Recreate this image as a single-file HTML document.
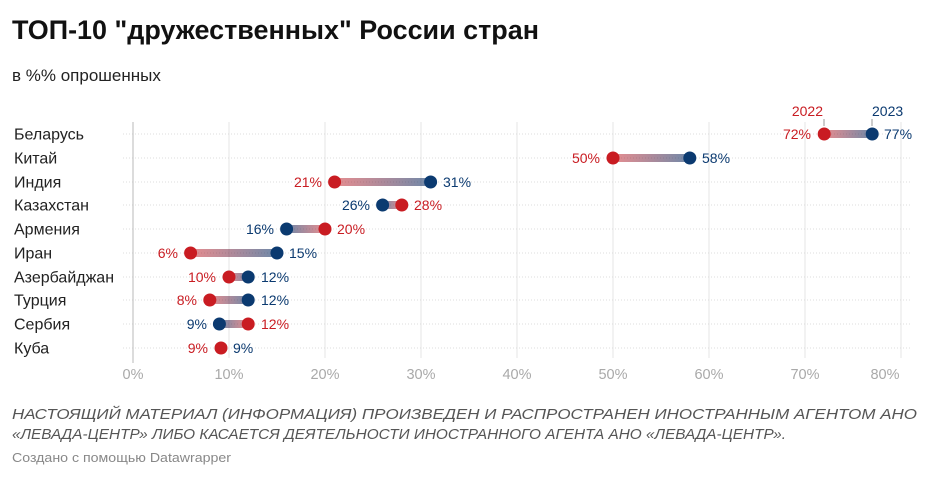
<!DOCTYPE html>
<html><head><meta charset="utf-8"><style>
html,body{margin:0;padding:0;background:#fff;}
svg{display:block;font-family:"Liberation Sans","Noto Sans CJK SC",sans-serif;}
</style></head><body>
<svg width="940" height="479" viewBox="0 0 940 479" xmlns="http://www.w3.org/2000/svg">
<defs>
<linearGradient id="g0" gradientUnits="userSpaceOnUse" x1="824.2" y1="0" x2="872.2" y2="0"><stop offset="0" stop-color="#c91c22" stop-opacity="0.5"/><stop offset="1" stop-color="#0b3a70" stop-opacity="0.6"/></linearGradient>
<linearGradient id="g1" gradientUnits="userSpaceOnUse" x1="613" y1="0" x2="689.8" y2="0"><stop offset="0" stop-color="#c91c22" stop-opacity="0.5"/><stop offset="1" stop-color="#0b3a70" stop-opacity="0.6"/></linearGradient>
<linearGradient id="g2" gradientUnits="userSpaceOnUse" x1="334.6" y1="0" x2="430.6" y2="0"><stop offset="0" stop-color="#c91c22" stop-opacity="0.5"/><stop offset="1" stop-color="#0b3a70" stop-opacity="0.6"/></linearGradient>
<linearGradient id="g3" gradientUnits="userSpaceOnUse" x1="401.8" y1="0" x2="382.6" y2="0"><stop offset="0" stop-color="#c91c22" stop-opacity="0.5"/><stop offset="1" stop-color="#0b3a70" stop-opacity="0.6"/></linearGradient>
<linearGradient id="g4" gradientUnits="userSpaceOnUse" x1="325" y1="0" x2="286.6" y2="0"><stop offset="0" stop-color="#c91c22" stop-opacity="0.5"/><stop offset="1" stop-color="#0b3a70" stop-opacity="0.6"/></linearGradient>
<linearGradient id="g5" gradientUnits="userSpaceOnUse" x1="190.6" y1="0" x2="277" y2="0"><stop offset="0" stop-color="#c91c22" stop-opacity="0.5"/><stop offset="1" stop-color="#0b3a70" stop-opacity="0.6"/></linearGradient>
<linearGradient id="g6" gradientUnits="userSpaceOnUse" x1="229" y1="0" x2="248.2" y2="0"><stop offset="0" stop-color="#c91c22" stop-opacity="0.5"/><stop offset="1" stop-color="#0b3a70" stop-opacity="0.6"/></linearGradient>
<linearGradient id="g7" gradientUnits="userSpaceOnUse" x1="209.8" y1="0" x2="248.2" y2="0"><stop offset="0" stop-color="#c91c22" stop-opacity="0.5"/><stop offset="1" stop-color="#0b3a70" stop-opacity="0.6"/></linearGradient>
<linearGradient id="g8" gradientUnits="userSpaceOnUse" x1="248.2" y1="0" x2="219.4" y2="0"><stop offset="0" stop-color="#c91c22" stop-opacity="0.5"/><stop offset="1" stop-color="#0b3a70" stop-opacity="0.6"/></linearGradient>
</defs>

<!-- Title -->
<text x="12" y="39" font-size="26.5" font-weight="bold" fill="#111" textLength="527" lengthAdjust="spacingAndGlyphs">ТОП-10 "дружественных" России стран</text>
<text x="12" y="81" font-size="17" fill="#222">в %% опрошенных</text>

<!-- vertical gridlines -->
<g stroke="#e6e6e6" stroke-width="1">
<line x1="229" y1="122" x2="229" y2="358"/>
<line x1="325" y1="122" x2="325" y2="358"/>
<line x1="421" y1="122" x2="421" y2="358"/>
<line x1="517" y1="122" x2="517" y2="358"/>
<line x1="613" y1="122" x2="613" y2="358"/>
<line x1="709" y1="122" x2="709" y2="358"/>
<line x1="805" y1="122" x2="805" y2="358"/>
<line x1="901" y1="122" x2="901" y2="358"/>
</g>
<!-- horizontal dotted -->
<g stroke="#dcdcdc" stroke-width="1" stroke-dasharray="1,2">
<line x1="123" y1="134" x2="912" y2="134"/>
<line x1="123" y1="158" x2="912" y2="158"/>
<line x1="123" y1="182" x2="912" y2="182"/>
<line x1="123" y1="205" x2="912" y2="205"/>
<line x1="123" y1="229" x2="912" y2="229"/>
<line x1="123" y1="253" x2="912" y2="253"/>
<line x1="123" y1="277" x2="912" y2="277"/>
<line x1="123" y1="300" x2="912" y2="300"/>
<line x1="123" y1="324" x2="912" y2="324"/>
<line x1="123" y1="348" x2="912" y2="348"/>
</g>
<line x1="133" y1="122" x2="133" y2="363" stroke="#c4c4c4" stroke-width="1.2"/>

<!-- x axis labels -->
<g font-size="14.5" fill="#a9a9a9" text-anchor="middle">
<text x="133" y="379">0%</text>
<text x="229" y="379">10%</text>
<text x="325" y="379">20%</text>
<text x="421" y="379">30%</text>
<text x="517" y="379">40%</text>
<text x="613" y="379">50%</text>
<text x="709" y="379">60%</text>
<text x="805" y="379">70%</text>
<text x="885" y="379">80%</text>
</g>

<!-- country labels -->
<g font-size="16" fill="#222">
<text x="14" y="139.5">Беларусь</text>
<text x="14" y="163.5">Китай</text>
<text x="14" y="187.5">Индия</text>
<text x="14" y="210.5">Казахстан</text>
<text x="14" y="234.5">Армения</text>
<text x="14" y="258.5">Иран</text>
<text x="14" y="282.5">Азербайджан</text>
<text x="14" y="305.5">Турция</text>
<text x="14" y="329.5">Сербия</text>
<text x="14" y="353.5">Куба</text>
</g>

<!-- legend -->
<text x="823" y="116" font-size="14" fill="#c91c22" text-anchor="end">2022</text>
<text x="872" y="116" font-size="14" fill="#0b3a70">2023</text>
<line x1="824" y1="119" x2="824" y2="126" stroke="#999" stroke-width="1"/>
<line x1="872" y1="119" x2="872" y2="126" stroke="#999" stroke-width="1"/>

<!-- bars -->
<g stroke-width="8">
<line x1="824.2" y1="134" x2="872.2" y2="134" stroke="url(#g0)"/>
<line x1="613" y1="158" x2="689.8" y2="158" stroke="url(#g1)"/>
<line x1="334.6" y1="182" x2="430.6" y2="182" stroke="url(#g2)"/>
<line x1="382.6" y1="205" x2="401.8" y2="205" stroke="url(#g3)"/>
<line x1="286.6" y1="229" x2="325" y2="229" stroke="url(#g4)"/>
<line x1="190.6" y1="253" x2="277" y2="253" stroke="url(#g5)"/>
<line x1="229" y1="277" x2="248.2" y2="277" stroke="url(#g6)"/>
<line x1="209.8" y1="300" x2="248.2" y2="300" stroke="url(#g7)"/>
<line x1="219.4" y1="324" x2="248.2" y2="324" stroke="url(#g8)"/>
</g>

<!-- dots: 2023 blue -->
<g fill="#0b3a70">
<circle cx="872.2" cy="134" r="6.5"/>
<circle cx="689.8" cy="158" r="6.5"/>
<circle cx="430.6" cy="182" r="6.5"/>
<circle cx="382.6" cy="205" r="6.5"/>
<circle cx="286.6" cy="229" r="6.5"/>
<circle cx="277" cy="253" r="6.5"/>
<circle cx="248.2" cy="277" r="6.5"/>
<circle cx="248.2" cy="300" r="6.5"/>
<circle cx="219.4" cy="324" r="6.5"/>
</g>
<!-- dots: 2022 red -->
<g fill="#c91c22">
<circle cx="824.2" cy="134" r="6.5"/>
<circle cx="613" cy="158" r="6.5"/>
<circle cx="334.6" cy="182" r="6.5"/>
<circle cx="401.8" cy="205" r="6.5"/>
<circle cx="325" cy="229" r="6.5"/>
<circle cx="190.6" cy="253" r="6.5"/>
<circle cx="229" cy="277" r="6.5"/>
<circle cx="209.8" cy="300" r="6.5"/>
<circle cx="248.2" cy="324" r="6.5"/>
<circle cx="221" cy="348" r="6.5"/>
</g>

<!-- value labels -->
<g font-size="14">
<text x="811" y="139" fill="#c91c22" text-anchor="end">72%</text>
<text x="884" y="139" fill="#0b3a70">77%</text>
<text x="600" y="163" fill="#c91c22" text-anchor="end">50%</text>
<text x="702" y="163" fill="#0b3a70">58%</text>
<text x="322" y="187" fill="#c91c22" text-anchor="end">21%</text>
<text x="443" y="187" fill="#0b3a70">31%</text>
<text x="370" y="210" fill="#0b3a70" text-anchor="end">26%</text>
<text x="414" y="210" fill="#c91c22">28%</text>
<text x="274" y="234" fill="#0b3a70" text-anchor="end">16%</text>
<text x="337" y="234" fill="#c91c22">20%</text>
<text x="178" y="258" fill="#c91c22" text-anchor="end">6%</text>
<text x="289" y="258" fill="#0b3a70">15%</text>
<text x="216" y="282" fill="#c91c22" text-anchor="end">10%</text>
<text x="261" y="282" fill="#0b3a70">12%</text>
<text x="197" y="305" fill="#c91c22" text-anchor="end">8%</text>
<text x="261" y="305" fill="#0b3a70">12%</text>
<text x="207" y="329" fill="#0b3a70" text-anchor="end">9%</text>
<text x="261" y="329" fill="#c91c22">12%</text>
<text x="208" y="353" fill="#c91c22" text-anchor="end">9%</text>
<text x="233" y="353" fill="#0b3a70">9%</text>
</g>

<!-- footer -->
<g font-size="15" font-style="italic" fill="#555">
<text x="12" y="419" textLength="905" lengthAdjust="spacingAndGlyphs">НАСТОЯЩИЙ МАТЕРИАЛ (ИНФОРМАЦИЯ) ПРОИЗВЕДЕН И РАСПРОСТРАНЕН ИНОСТРАННЫМ АГЕНТОМ АНО</text>
<text x="12" y="439" textLength="774" lengthAdjust="spacingAndGlyphs">«ЛЕВАДА-ЦЕНТР» ЛИБО КАСАЕТСЯ ДЕЯТЕЛЬНОСТИ ИНОСТРАННОГО АГЕНТА АНО «ЛЕВАДА-ЦЕНТР».</text>
</g>
<text x="12" y="462" font-size="13" fill="#888" textLength="219" lengthAdjust="spacingAndGlyphs">Создано с помощью Datawrapper</text>
</svg>
</body></html>
